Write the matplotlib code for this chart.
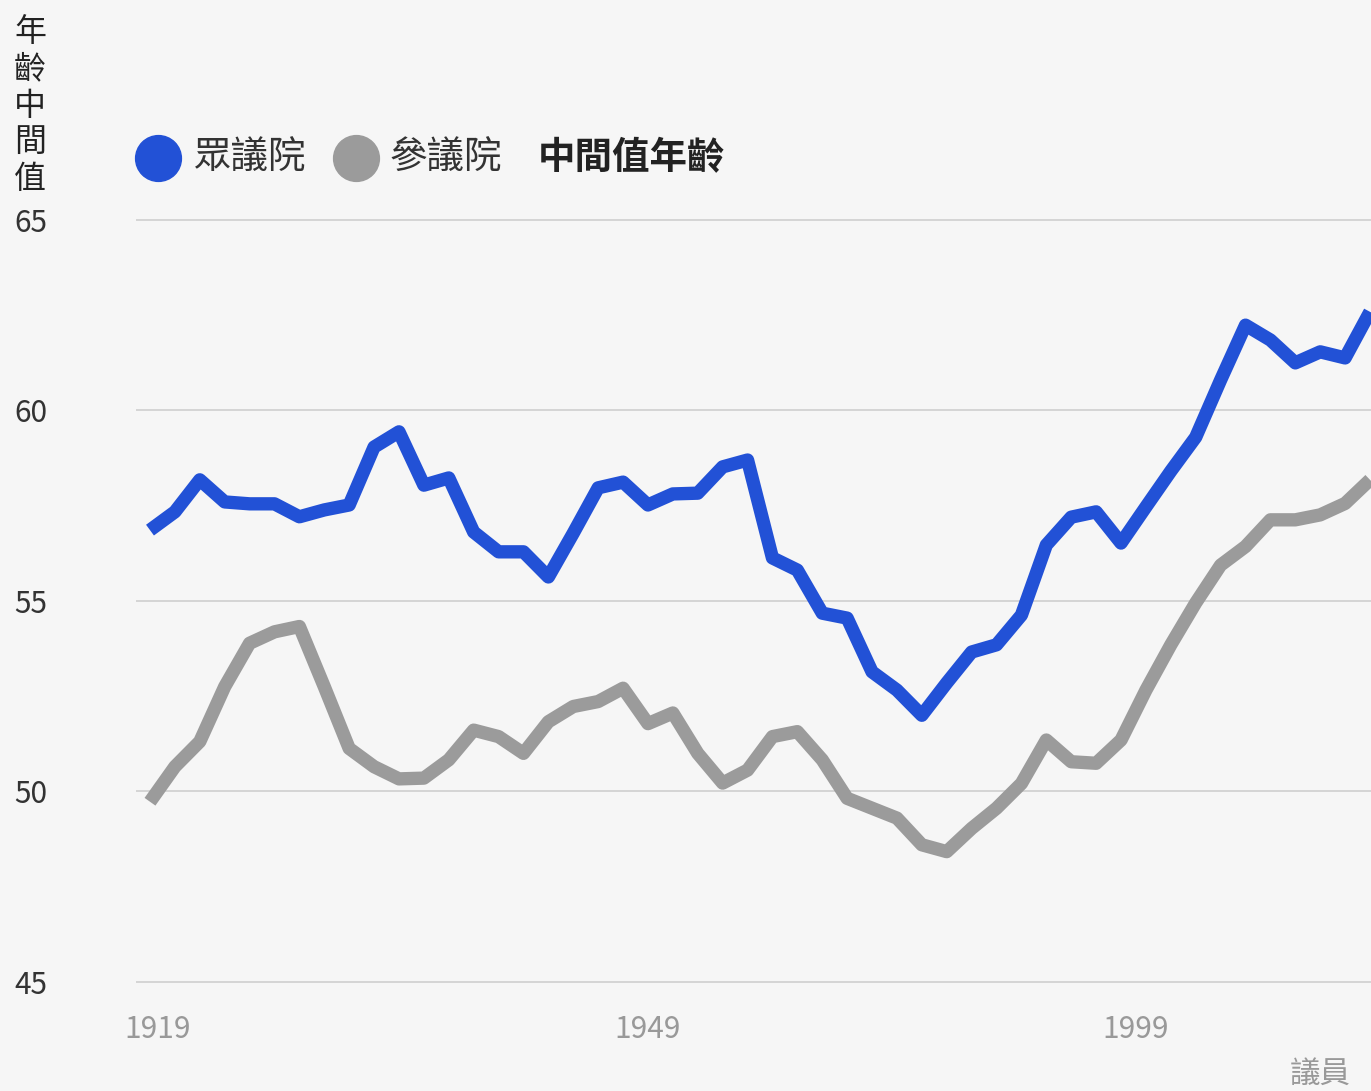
import matplotlib

matplotlib.use("Agg")

import matplotlib.pyplot as plt
import numpy as np
from matplotlib.lines import Line2D

plt.rcParams["font.family"] = ["Noto Sans CJK TC", "DejaVu Sans"]

# median age per session
house_median = [
    56.86, 57.34, 58.18, 57.60, 57.55, 57.55, 57.21, 57.39, 57.52, 59.04,
    59.44, 58.04, 58.23, 56.81, 56.29, 56.29, 55.63, 56.78, 57.97, 58.12,
    57.52, 57.81, 57.83, 58.52, 58.70, 56.13, 55.81, 54.68, 54.55, 53.14,
    52.66, 52.00, 52.85, 53.66, 53.85, 54.63, 56.47, 57.20, 57.34, 56.52,
    57.47, 58.41, 59.30, 60.80, 62.24, 61.85, 61.25, 61.54, 61.38, 62.59,
]
senate_median = [
    49.73, 50.65, 51.31, 52.75, 53.89, 54.19, 54.33, 52.75, 51.13, 50.65,
    50.33, 50.35, 50.83, 51.61, 51.44, 51.00, 51.83, 52.23, 52.36, 52.71,
    51.78, 52.06, 51.00, 50.22, 50.56, 51.44, 51.57, 50.83, 49.82, 49.56,
    49.30, 48.60, 48.42, 49.03, 49.56, 50.21, 51.35, 50.78, 50.74, 51.35,
    52.66, 53.85, 54.95, 55.94, 56.43, 57.13, 57.13, 57.26, 57.56, 58.18,
]
year_labels = ["1919", "1949", "1999"]
year_ticks = [0.3, 20, 39.6]
y_ticks = [45, 50, 55, 60, 65]

BLUE = "#2251D6"
GRAY = "#9B9B9B"
BG = "#F6F6F6"

W, H = 1371, 1091
fig = plt.figure(figsize=(W / 100, H / 100), dpi=100, facecolor=BG)

# axes: left edge at 136px, runs to the right edge of the picture
ax = fig.add_axes([136 / W, 0.086, 1 - 136 / W, 0.7263], facecolor=BG)
x = np.arange(len(house_median))
for values, color in ((senate_median, GRAY), (house_median, BLUE)):
    ax.plot(x, values, color=color, linewidth=9.6,
            solid_joinstyle="round", solid_capstyle="butt")

ax.set_xlim(-0.562, 49.04)
ax.set_ylim(44.6, 65.4)
ax.set_yticks(y_ticks)
ax.set_yticklabels([str(v) for v in y_ticks])
ax.set_xticks(year_ticks)
ax.set_xticklabels(year_labels)
ax.tick_params(axis="y", length=0, pad=64, labelsize=21.5, labelcolor="#333333")
ax.tick_params(axis="x", length=0, pad=12, labelsize=21.5, labelcolor="#999999")
ax.grid(axis="y", color="#CCCCCC", linewidth=1.1)
ax.set_axisbelow(True)
for spine in ax.spines.values():
    spine.set_visible(False)

# vertical axis title, stacked characters
fig.text(30 / W, 1 - 16 / H, "\n".join("年齡中間值"), ha="center", va="top",
         fontsize=23, color="#222222", linespacing=1.19)

# legend row
ly = 1 - 158 / H
for cx, color in ((158, BLUE), (356, GRAY)):
    fig.add_artist(Line2D([cx / W], [ly], marker="o", markersize=33,
                          color=color, linestyle="none",
                          transform=fig.transFigure))
fig.text(194 / W, ly, "眾議院", ha="left", va="center", fontsize=27, color="#333333")
fig.text(390 / W, ly, "參議院", ha="left", va="center", fontsize=27, color="#333333")
fig.text(538 / W, ly, "中間值年齡", ha="left", va="center", fontsize=27,
         fontweight="bold", color="#222222")

# source note (cut off at the right edge in the original)
fig.text(1290 / W, 1 - 1074 / H, "議員", ha="left", va="center",
         fontsize=22, color="#999999")

fig.savefig("out.png", dpi=100, facecolor=BG)
plt.close(fig)
